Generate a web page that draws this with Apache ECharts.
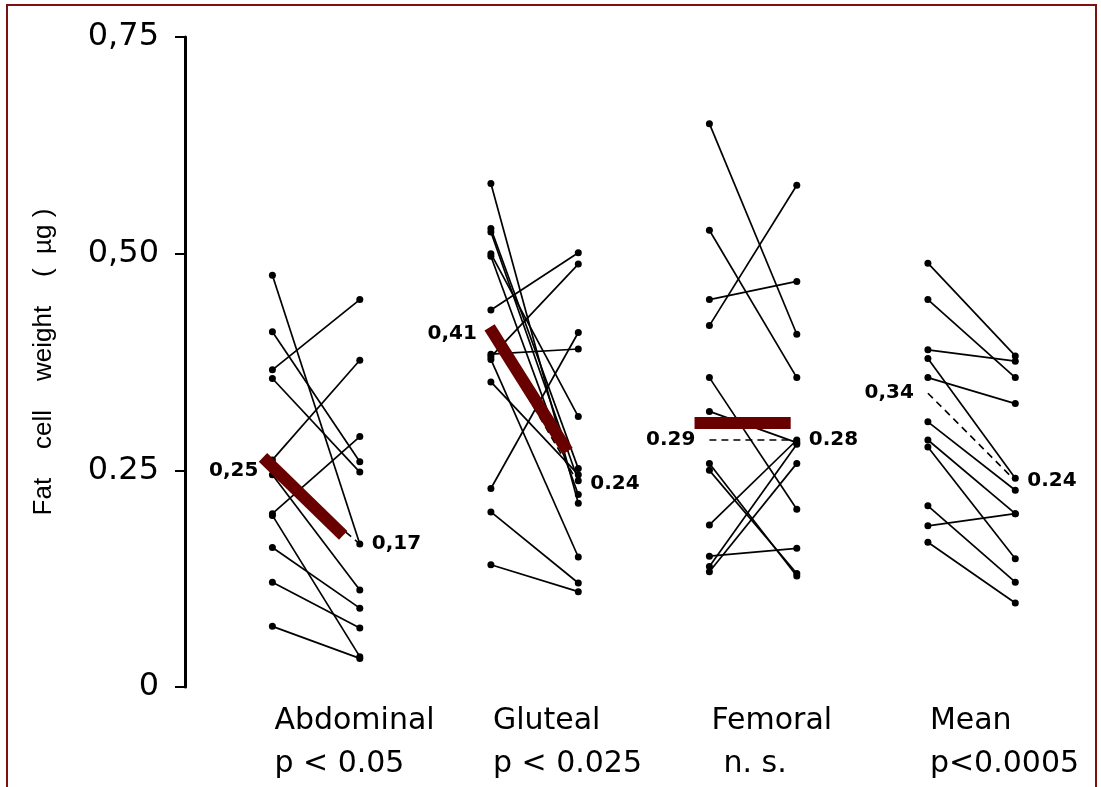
<!DOCTYPE html>
<html>
<head>
<meta charset="utf-8">
<style>
  html, body { margin: 0; padding: 0; background: #fff; }
  #chart { width: 1101px; height: 787px; }
</style>
<script src="https://cdn.jsdelivr.net/npm/echarts@6/dist/echarts.min.js"></script>
</head>
<body>
<div id="chart"></div>
<script>
const groupNames = ['Abdominal', 'Gluteal', 'Femoral', 'Mean'];
const pLabels = ['p < 0.05', 'p < 0.025', 'n. s.', 'p<0.0005'];
const yTickLabels = {0: '0', 0.25: '0.25', 0.5: '0,50', 0.75: '0,75'};

// before / after values per subject, one pair of arrays per site
const abdominalBefore = [0.475, 0.410, 0.366, 0.356, 0.262, 0.245, 0.200, 0.198, 0.161, 0.121, 0.070];
const abdominalAfter  = [0.165, 0.260, 0.447, 0.248, 0.377, 0.112, 0.289, 0.035, 0.091, 0.068, 0.033];
const glutealBefore = [0.581, 0.529, 0.525, 0.500, 0.497, 0.435, 0.381, 0.378, 0.352, 0.384, 0.229, 0.202, 0.141];
const glutealAfter  = [0.212, 0.252, 0.238, 0.312, 0.222, 0.501, 0.488, 0.150, 0.245, 0.390, 0.409, 0.120, 0.110];
const femoralBefore = [0.650, 0.527, 0.447, 0.417, 0.357, 0.318, 0.258, 0.250, 0.187, 0.151, 0.139, 0.133];
const femoralAfter  = [0.407, 0.357, 0.468, 0.579, 0.205, 0.282, 0.128, 0.131, 0.285, 0.160, 0.280, 0.258];
const meanBefore = [0.489, 0.447, 0.389, 0.379, 0.357, 0.306, 0.285, 0.277, 0.209, 0.186, 0.167];
const meanAfter  = [0.382, 0.357, 0.376, 0.241, 0.327, 0.227, 0.200, 0.148, 0.121, 0.200, 0.097];

// group means (dashed lines) and their printed values
const avgBefore = [0.250, 0.408, 0.285, 0.339];
const avgAfter  = [0.165, 0.235, 0.285, 0.238];
const avgBeforeText = ['0,25', '0,41', '0.29', '0,34'];
const avgAfterText  = ['0,17', '0.24', '0.28', '0.24'];

// thick red bars drawn over the first three sites
const barBefore = [0.265, 0.415, 0.305];
const barAfter  = [0.175, 0.272, 0.305];
const barStartX = [-0.243, -0.206, -0.268];
const barEndX   = [0.124, 0.151, 0.172];

const sites = [
    [abdominalBefore, abdominalAfter],
    [glutealBefore, glutealAfter],
    [femoralBefore, femoralAfter],
    [meanBefore, meanAfter]
];

const OFF = 0.2;
const pairLines = [];
const dots = [];
sites.forEach(([b, a], g)=>{
    b.forEach((v, i)=>{
        pairLines.push({coords: [[g - OFF, v], [g + OFF, a[i]]]});
        dots.push([g - OFF, v]);
        dots.push([g + OFF, a[i]]);
    });
});

const dashLines = avgBefore.map((v, g)=>({coords: [[g - OFF, v], [g + OFF, avgAfter[g]]]}));
const redBars = barBefore.map((v, g)=>({coords: [[g + barStartX[g], v], [g + barEndX[g], barAfter[g]]]}));

const labelFont = {fontFamily: 'DejaVu Sans', fontSize: 20, fontWeight: 600, color: '#000'};
const solid = {color: '#000', opacity: 1};

let chart = echarts.init(document.getElementById('chart'));
chart.setOption({
    animation: false,
    backgroundColor: '#fff',
    grid: {
        left: 185,
        right: 42,
        top: 37,
        bottom: 100
    },
    xAxis: {
        type: 'value',
        min: -0.6,
        max: 3.4,
        show: false
    },
    yAxis: {
        type: 'value',
        min: 0,
        max: 0.75,
        interval: 0.25,
        name: 'Fat    cell    weight    (  µg )',
        nameLocation: 'middle',
        nameRotate: 90,
        nameGap: 128,
        nameTextStyle: {
            fontFamily: 'Liberation Sans',
            fontSize: 26,
            color: '#000'
        },
        axisLine: {
            show: true,
            onZero: false,
            lineStyle: {color: '#000', width: 3}
        },
        axisTick: {
            show: true,
            length: 10,
            lineStyle: {color: '#000', width: 2}
        },
        axisLabel: {
            margin: 26,
            fontFamily: 'DejaVu Sans',
            fontSize: 32,
            color: '#000',
            formatter: (v)=>yTickLabels[v] !== undefined ? yTickLabels[v] : ''
        },
        splitLine: {show: false}
    },
    graphic: [{
        type: 'rect',
        shape: {x: 7, y: 5, width: 1089, height: 800},
        style: {fill: 'none', stroke: '#7a1212', lineWidth: 2},
        silent: true
    }],
    series: [
        {
            type: 'lines',
            coordinateSystem: 'cartesian2d',
            data: pairLines,
            lineStyle: {color: '#000', width: 1.7, opacity: 1},
            z: 2
        },
        {
            type: 'scatter',
            data: dots,
            symbolSize: 7,
            itemStyle: solid,
            z: 3
        },
        {
            type: 'lines',
            coordinateSystem: 'cartesian2d',
            data: dashLines,
            lineStyle: {color: '#000', width: 1.6, type: [7, 5], opacity: 1},
            z: 2
        },
        {
            type: 'lines',
            coordinateSystem: 'cartesian2d',
            data: redBars,
            lineStyle: {color: '#680000', width: 12, cap: 'butt', opacity: 1},
            z: 4
        },
        {
            type: 'scatter',
            data: avgBefore.map((v, g)=>({value: [g - OFF, v], label: {formatter: avgBeforeText[g]}})),
            symbolSize: 0,
            itemStyle: solid,
            label: Object.assign({show: true, position: 'left', distance: 14}, labelFont),
            z: 5
        },
        {
            type: 'scatter',
            data: avgAfter.map((v, g)=>({value: [g + OFF, v], label: {formatter: avgAfterText[g]}})),
            symbolSize: 0,
            itemStyle: solid,
            label: Object.assign({show: true, position: 'right', distance: 12}, labelFont),
            z: 5
        },
        {
            type: 'scatter',
            data: groupNames.map((n, g)=>({value: [g - OFF, 0], label: {formatter: n}})),
            symbolSize: 0,
            silent: true,
            itemStyle: solid,
            label: {
                show: true,
                position: [2, 19],
                align: 'left',
                verticalAlign: 'top',
                fontFamily: 'DejaVu Sans',
                fontSize: 30,
                color: '#000'
            }
        },
        {
            type: 'scatter',
            data: pLabels.map((n, g)=>({
                value: [n === 'n. s.' ? g : g - OFF, 0],
                label: {formatter: n, align: n === 'n. s.' ? 'center' : 'left'}
            })),
            symbolSize: 0,
            silent: true,
            itemStyle: solid,
            label: {
                show: true,
                position: [2, 62],
                verticalAlign: 'top',
                fontFamily: 'DejaVu Sans',
                fontSize: 30,
                color: '#000'
            }
        }
    ]
});
</script>
</body>
</html>
